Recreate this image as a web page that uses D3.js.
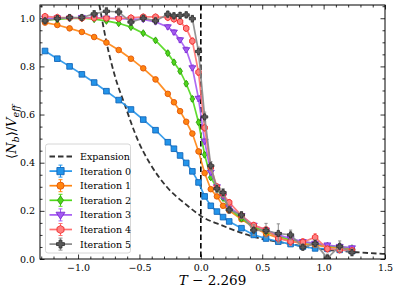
<!DOCTYPE html>
<html><head><meta charset="utf-8">
<script src="https://cdn.jsdelivr.net/npm/d3@7"></script>
<style>body{margin:0;background:#fff} svg{display:block}</style>
</head><body>
<svg id="c" width="398" height="294"></svg>
<script>
const TC = 2.269;
const temps = [1.0,1.1,1.2,1.3,1.4,1.5,1.6,1.7,1.8,1.9,2.0,2.05,2.1,2.15,2.2,2.25,2.3,2.35,2.4,2.45,2.5,2.6,2.7,2.8,2.9,3.0,3.1,3.2,3.3,3.4,3.5];
const iter0 = [0.864,0.832,0.800,0.767,0.733,0.697,0.660,0.621,0.579,0.535,0.485,0.458,0.430,0.399,0.364,0.318,0.260,0.221,0.197,0.174,0.156,0.128,0.100,0.085,0.072,0.062,0.051,0.044,0.042,0.038,0.033];
const iter1 = [0.982,0.972,0.958,0.943,0.922,0.899,0.868,0.832,0.792,0.746,0.686,0.651,0.614,0.570,0.521,0.447,0.357,0.290,0.260,0.221,0.201,0.165,0.132,0.105,0.088,0.075,0.063,0.058,0.050,0.045,0.040];
const iter2 = [0.993,0.995,0.999,1.000,0.996,0.989,0.979,0.963,0.938,0.908,0.855,0.817,0.780,0.728,0.665,0.568,0.433,0.339,0.295,0.253,0.211,0.168,0.135,0.113,0.095,0.080,0.070,0.065,0.055,0.050,0.045];
const iter3 = [1.000,1.001,1.000,1.003,1.002,1.000,0.998,0.996,0.995,0.985,0.964,0.942,0.910,0.869,0.794,0.667,0.489,0.360,0.300,0.260,0.215,0.180,0.140,0.120,0.100,0.085,0.072,0.065,0.058,0.052,0.046];
const iter4 = [1.008,1.004,1.002,1.000,1.001,1.000,0.999,1.002,1.006,1.006,1.003,0.996,0.986,0.958,0.905,0.776,0.545,0.380,0.300,0.270,0.235,0.180,0.140,0.122,0.085,0.072,0.070,0.090,0.042,0.038,0.035];
const iter5 = [0.989,0.999,1.003,1.003,1.018,1.029,1.026,0.984,1.000,0.989,1.017,1.010,1.012,1.014,0.998,0.862,0.590,0.387,0.292,0.276,0.204,0.183,0.120,0.118,0.106,0.100,0.049,0.064,0.004,0.053,0.027];
const err0 = [0.004,0.004,0.004,0.004,0.004,0.004,0.004,0.004,0.004,0.004,0.005,0.005,0.005,0.005,0.006,0.006,0.006,0.005,0.005,0.005,0.004,0.004,0.004,0.004,0.004,0.004,0.004,0.004,0.004,0.004,0.004];
const err1 = [0.005,0.005,0.005,0.005,0.005,0.005,0.005,0.005,0.005,0.005,0.006,0.006,0.006,0.006,0.007,0.008,0.008,0.007,0.006,0.006,0.005,0.005,0.005,0.005,0.005,0.005,0.005,0.005,0.005,0.005,0.005];
const err2 = [0.006,0.006,0.006,0.006,0.006,0.006,0.006,0.006,0.006,0.007,0.008,0.008,0.008,0.009,0.010,0.010,0.010,0.009,0.008,0.007,0.006,0.006,0.006,0.006,0.006,0.006,0.006,0.006,0.006,0.006,0.006];
const err3 = [0.007,0.007,0.007,0.007,0.007,0.007,0.007,0.007,0.007,0.008,0.009,0.010,0.010,0.011,0.012,0.012,0.012,0.011,0.010,0.009,0.008,0.008,0.008,0.008,0.008,0.008,0.008,0.008,0.008,0.008,0.008];
const err4 = [0.008,0.008,0.008,0.008,0.008,0.008,0.008,0.008,0.008,0.008,0.010,0.010,0.011,0.012,0.013,0.014,0.014,0.013,0.012,0.012,0.012,0.012,0.012,0.012,0.014,0.015,0.015,0.015,0.012,0.012,0.012];
const err5 = [0.010,0.010,0.010,0.010,0.014,0.016,0.016,0.012,0.012,0.012,0.012,0.012,0.012,0.012,0.014,0.018,0.020,0.018,0.016,0.016,0.014,0.014,0.022,0.030,0.040,0.020,0.012,0.016,0.016,0.022,0.014];
const expX = [-0.84,-0.823,-0.768,-0.70,-0.619,-0.51,-0.417,-0.28,-0.117,0.0,0.182,0.426,0.725,0.997,1.269,1.5];
const expY = [1.09,1.045,0.899,0.76,0.64,0.49,0.399,0.301,0.225,0.179,0.1375,0.093,0.0625,0.040,0.028,0.021];
const seriesNames = ["Iteration 0","Iteration 1","Iteration 2","Iteration 3","Iteration 4","Iteration 5"];
const expansionName = "Expansion";
const xTicks = [-1.0,-0.5,0.0,0.5,1.0,1.5];
const yTicks = [0.0,0.2,0.4,0.6,0.8,1.0];

const series = [iter0,iter1,iter2,iter3,iter4,iter5];
const errs = [err0,err1,err2,err3,err4,err5];
const styles = [
  {line:"#2394ea", fill:"#2394ea", edge:"#1466b8", shape:"square"},
  {line:"#ff8410", fill:"#ff8410", edge:"#e0560a", shape:"circle"},
  {line:"#4fd81a", fill:"#4fd81a", edge:"#2f9a10", shape:"diamond"},
  {line:"#a55af2", fill:"#a55af2", edge:"#7a2fd0", shape:"tri"},
  {line:"#ff7070", fill:"#ff8080", edge:"#ee2a2a", shape:"hex"},
  {line:"#8a8a8a", fill:"#5a5a5a", edge:"#333333", shape:"plus"}
];

const svg = d3.select("#c");
const L=40,R=385,T=5,B=259;
const x = d3.scaleLinear().domain([-1.31,1.5]).range([L,R]);
const y = d3.scaleLinear().domain([0,1.055]).range([B,T]);
const FONT = "DejaVu Serif";

svg.append("defs").append("clipPath").attr("id","clip")
  .append("rect").attr("x",L).attr("y",T).attr("width",R-L).attr("height",B-T);

function shapePath(shape, s){
  if(shape==="square") return d3.symbol(d3.symbolSquare, s*s)();
  if(shape==="circle") return d3.symbol(d3.symbolCircle, Math.PI*s*s/4)();
  if(shape==="diamond"){const w=s*0.42,h=s*0.62;return `M0,${-h}L${w},0L0,${h}L${-w},0Z`;}
  if(shape==="tri"){const r=s*0.62;return `M${-r},${-r*0.6}L${r},${-r*0.6}L0,${r*0.95}Z`;}
  if(shape==="hex"){const r=s*0.56;let p="";for(let k=0;k<6;k++){const a=Math.PI/3*k+Math.PI/6;p+=(k?"L":"M")+(r*Math.cos(a)).toFixed(2)+","+(r*Math.sin(a)).toFixed(2);}return p+"Z";}
  if(shape==="plus"){const a=s*0.55,b=s*0.2;return `M${-b},${-a}H${b}V${-b}H${a}V${b}H${b}V${a}H${-b}V${b}H${-a}V${-b}H${-b}Z`;}
}

const fmt = d3.format(".1f");
const xMinor = d3.range(-13,16).map(v=>v/10).filter(v=>!xTicks.some(t=>Math.abs(t-v)<1e-9));
const yMinor = d3.range(0,22).map(v=>v/20).filter(v=>!yTicks.some(t=>Math.abs(t-v)<1e-9) && v<=1.05);

const gxb = svg.append("g").attr("transform",`translate(0,${B})`)
  .call(d3.axisBottom(x).tickValues(xTicks).tickFormat(fmt).tickSize(-4.5).tickPadding(5));
const gxbm = svg.append("g").attr("transform",`translate(0,${B})`)
  .call(d3.axisBottom(x).tickValues(xMinor).tickFormat("").tickSize(-2.5));
const gxt = svg.append("g").attr("transform",`translate(0,${T})`)
  .call(d3.axisTop(x).tickValues(xTicks).tickFormat("").tickSize(-4.5));
const gxtm = svg.append("g").attr("transform",`translate(0,${T})`)
  .call(d3.axisTop(x).tickValues(xMinor).tickFormat("").tickSize(-2.5));
const gyl = svg.append("g").attr("transform",`translate(${L},0)`)
  .call(d3.axisLeft(y).tickValues(yTicks).tickFormat(fmt).tickSize(-4.5).tickPadding(5));
const gylm = svg.append("g").attr("transform",`translate(${L},0)`)
  .call(d3.axisLeft(y).tickValues(yMinor).tickFormat("").tickSize(-2.5));
const gyr = svg.append("g").attr("transform",`translate(${R},0)`)
  .call(d3.axisRight(y).tickValues(yTicks).tickFormat("").tickSize(-4.5));
const gyrm = svg.append("g").attr("transform",`translate(${R},0)`)
  .call(d3.axisRight(y).tickValues(yMinor).tickFormat("").tickSize(-2.5));
[gxb,gxbm,gxt,gxtm,gyl,gylm,gyr,gyrm].forEach(g=>{
  g.attr("font-family",FONT);
  g.select(".domain").remove();
  g.selectAll(".tick line").attr("stroke","#000").attr("stroke-width",0.8);
  g.selectAll(".tick text").style("font-family",FONT).attr("font-size",9.5).attr("fill","#000");
});

const plot = svg.append("g").attr("clip-path","url(#clip)");

plot.append("path")
  .datum(expX.map((v,i)=>[v,expY[i]]))
  .attr("fill","none").attr("stroke","#333").attr("stroke-width",1.8)
  .attr("stroke-dasharray","5.5,3")
  .attr("d", d3.line().x(d=>x(d[0])).y(d=>y(d[1])).curve(d3.curveMonotoneX));

plot.append("line").attr("x1",x(0)).attr("x2",x(0)).attr("y1",T).attr("y2",B)
  .attr("stroke","#000").attr("stroke-width",1.6).attr("stroke-dasharray","5.5,3");

series.forEach((vals,si)=>{
  const st = styles[si];
  const g = plot.append("g");
  const pts = vals.map((v,i)=>({x:temps[i]-TC, y:v, e:errs[si][i]}));
  g.append("path").datum(pts).attr("fill","none").attr("stroke",st.line)
    .attr("stroke-width",1.7).attr("stroke-opacity",0.9)
    .attr("d", d3.line().x(d=>x(d.x)).y(d=>y(d.y)));
  const eb = g.selectAll("g.eb").data(pts).join("g").attr("stroke",st.line).attr("stroke-width",1);
  eb.append("line").attr("x1",d=>x(d.x)).attr("x2",d=>x(d.x)).attr("y1",d=>y(d.y-d.e)).attr("y2",d=>y(d.y+d.e));
  eb.append("line").attr("x1",d=>x(d.x)-1.6).attr("x2",d=>x(d.x)+1.6).attr("y1",d=>y(d.y-d.e)).attr("y2",d=>y(d.y-d.e));
  eb.append("line").attr("x1",d=>x(d.x)-1.6).attr("x2",d=>x(d.x)+1.6).attr("y1",d=>y(d.y+d.e)).attr("y2",d=>y(d.y+d.e));
  g.selectAll("path.mk").data(pts).join("path").attr("class","mk")
    .attr("transform",d=>`translate(${x(d.x)},${y(d.y)})`)
    .attr("d",shapePath(st.shape,5.6))
    .attr("fill",st.fill).attr("stroke",st.edge).attr("stroke-width",0.9);
});

svg.append("rect").attr("x",L).attr("y",T).attr("width",R-L).attr("height",B-T)
  .attr("fill","none").attr("stroke","#000").attr("stroke-width",1);

const lg = svg.append("g").style("font-family",FONT);
lg.append("rect").attr("x",45.5).attr("y",144).attr("width",85).attr("height",109).attr("rx",2.5)
  .attr("fill","#fff").attr("fill-opacity",0.85).attr("stroke","#ccc").attr("stroke-width",0.8);
const rowY = i => 156.5 + i*14.6;
lg.append("line").attr("x1",49.5).attr("x2",72).attr("y1",rowY(0)).attr("y2",rowY(0))
  .attr("stroke","#333").attr("stroke-width",1.8).attr("stroke-dasharray","5.5,3");
lg.append("text").attr("x",80).attr("y",rowY(0)+3.4).text(expansionName)
  .style("font-family",FONT).attr("font-size",9.5);
seriesNames.forEach((nm,si)=>{
  const st=styles[si], yy=rowY(si+1), cx=60.5;
  lg.append("line").attr("x1",49.5).attr("x2",72).attr("y1",yy).attr("y2",yy).attr("stroke",st.line).attr("stroke-width",1.7);
  lg.append("line").attr("x1",cx).attr("x2",cx).attr("y1",yy-6).attr("y2",yy+6).attr("stroke",st.line).attr("stroke-width",1);
  lg.append("line").attr("x1",cx-2).attr("x2",cx+2).attr("y1",yy-6).attr("y2",yy-6).attr("stroke",st.line).attr("stroke-width",1);
  lg.append("line").attr("x1",cx-2).attr("x2",cx+2).attr("y1",yy+6).attr("y2",yy+6).attr("stroke",st.line).attr("stroke-width",1);
  lg.append("path").attr("transform",`translate(${cx},${yy})`).attr("d",shapePath(st.shape,7.2))
    .attr("fill",st.fill).attr("stroke",st.edge).attr("stroke-width",0.9);
  lg.append("text").attr("x",80).attr("y",yy+3.4).text(nm)
    .style("font-family",FONT).attr("font-size",9.5);
});

const xl = svg.append("text").attr("x",(L+R)/2).attr("y",285).attr("text-anchor","middle")
  .style("font-family",FONT).attr("font-size",13.5);
xl.append("tspan").attr("font-style","italic").text("T");
xl.append("tspan").text(" − 2.269");

const yl = svg.append("text").attr("transform",`translate(16,${(T+B)/2}) rotate(-90)`)
  .attr("text-anchor","middle").style("font-family",FONT).attr("font-size",13);
yl.append("tspan").text("⟨");
yl.append("tspan").attr("font-style","italic").text("N");
yl.append("tspan").attr("font-style","italic").attr("font-size",9.5).attr("dy",3).text("b");
yl.append("tspan").attr("dy",-3).text("⟩/");
yl.append("tspan").attr("font-style","italic").text("V");
yl.append("tspan").attr("font-style","italic").attr("font-size",9.5).attr("dy",3).text("eff");
</script>
</body></html>
